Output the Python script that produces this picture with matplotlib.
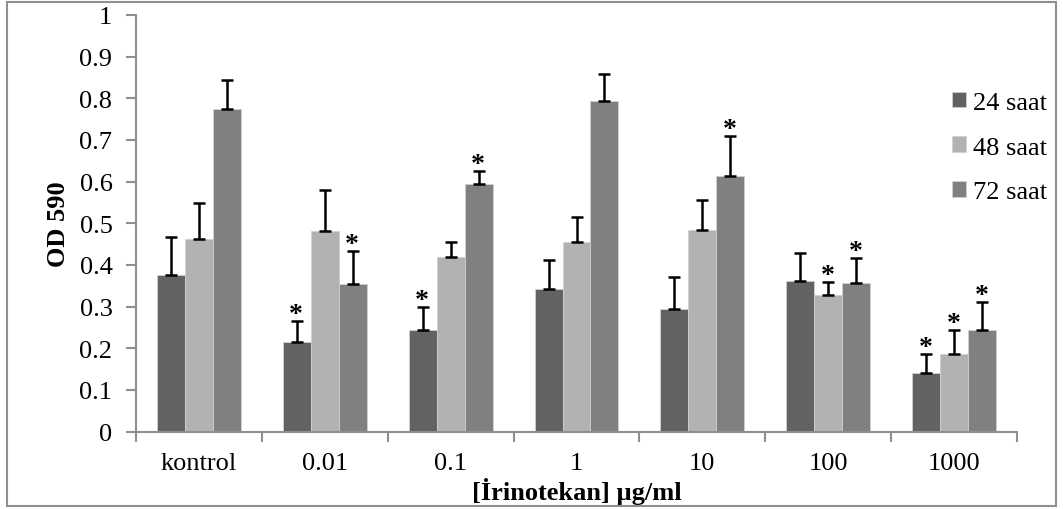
import numpy as np
import matplotlib.pyplot as plt
from matplotlib.patches import Rectangle

plt.rcParams['font.family'] = ['Liberation Serif', 'DejaVu Serif']

dozlar = ["kontrol", "0.01", "0.1", "1", "10", "100", "1000"]
seriler = ["24 saat", "48 saat", "72 saat"]
renkler = ["#626262", "#b2b2b2", "#808080"]

od_24 = [0.376, 0.216, 0.244, 0.342, 0.295, 0.361, 0.140]
od_48 = [0.463, 0.481, 0.419, 0.454, 0.483, 0.327, 0.187]
od_72 = [0.775, 0.354, 0.594, 0.794, 0.613, 0.356, 0.244]

hata_24 = [0.090, 0.050, 0.054, 0.070, 0.076, 0.067, 0.045]
hata_48 = [0.085, 0.100, 0.035, 0.060, 0.073, 0.032, 0.057]
hata_72 = [0.070, 0.080, 0.031, 0.064, 0.096, 0.061, 0.068]

# anlamlı fark (*) olan çubuklar
yildiz_24 = [False, True, True, False, False, False, True]
yildiz_48 = [False, False, False, False, False, True, True]
yildiz_72 = [False, True, True, False, True, True, True]

degerler = [od_24, od_48, od_72]
hatalar = [hata_24, hata_48, hata_72]
yildizlar = [yildiz_24, yildiz_48, yildiz_72]

W, H = 1063, 510
fig = plt.figure(figsize=(W / 100, H / 100), dpi=100)
ax = fig.add_axes([136 / W, (H - 432.5) / H, (1017 - 136) / W, (432.5 - 16) / H])

yazi = 19

x = np.arange(len(dozlar))
genislik = 0.222
for i in range(3):
    konum = x + (i - 1) * genislik
    ax.bar(konum, degerler[i], genislik, color=renkler[i], edgecolor="#d0d0d0",
           linewidth=0.6, label=seriler[i], zorder=2)
    ax.errorbar(konum, degerler[i], yerr=[np.zeros(len(x)), hatalar[i]], fmt="none",
                ecolor="black", elinewidth=1.8, capsize=4.3, capthick=1.8, zorder=3)
    for k in range(len(x)):
        if yildizlar[i][k]:
            ax.annotate("*", (konum[k], degerler[i][k] + hatalar[i][k]),
                        xytext=(-0.5, 0), textcoords="offset points",
                        ha="center", va="baseline", fontsize=20, fontweight="bold")

ax.set_xlim(-0.5, len(x) - 0.5)
ax.set_ylim(0, 1)
ax.set_yticks(np.arange(0, 1.01, 0.1))
ax.set_yticklabels(["0", "0.1", "0.2", "0.3", "0.4", "0.5", "0.6", "0.7", "0.8", "0.9", "1"])
ax.set_xticks(x)
ax.set_xticklabels(dozlar)
ax.set_xticks(np.arange(-0.5, len(x)), minor=True)

for s in ["top", "right"]:
    ax.spines[s].set_visible(False)
for s in ["left", "bottom"]:
    ax.spines[s].set_color("#8f8f8f")
    ax.spines[s].set_linewidth(1.5)

ax.tick_params(axis="y", labelsize=yazi, length=7, width=1.5, color="#8f8f8f", pad=10)
ax.tick_params(axis="x", which="major", labelsize=yazi, length=0, pad=15)
ax.tick_params(axis="x", which="minor", length=7, width=1.5, color="#8f8f8f")

ax.set_ylabel("OD 590", fontsize=yazi, fontweight="bold")
ax.yaxis.set_label_coords(-0.075, 0.5)
ax.set_xlabel("[İrinotekan] µg/ml", fontsize=yazi, fontweight="bold")
ax.xaxis.set_label_coords(0.5, -0.109)

fig.legend(loc="center left", bbox_to_anchor=(952 / W, 1 - 148.5 / H), frameon=False,
           fontsize=yazi, handlelength=0.53, handleheight=0.53, handletextpad=0.25,
           labelspacing=0.85, borderaxespad=0, borderpad=0)

fig.patches.append(Rectangle((7 / W, 3 / H), (1056 - 7) / W, (507 - 3) / H,
                             transform=fig.transFigure, fill=False,
                             edgecolor="#8f8f8f", linewidth=1.5))

fig.savefig("out.png", dpi=100)
